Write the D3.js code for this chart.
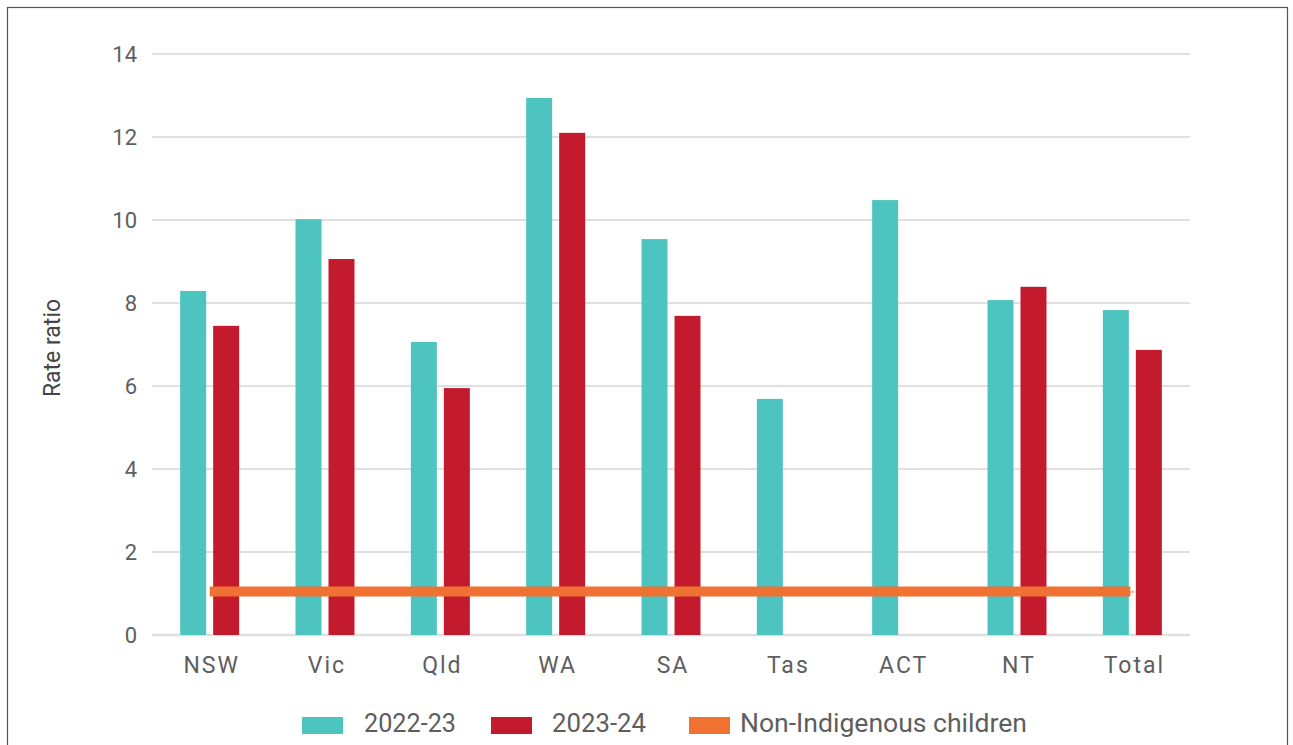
<!DOCTYPE html>
<html><head><meta charset="utf-8">
<script src="https://cdn.jsdelivr.net/npm/d3@7"></script>
<style>body{margin:0;background:#fff;} svg{display:block;}</style>
</head><body>
<script>
const categories = ["NSW","Vic","Qld","WA","SA","Tas","ACT","NT","Total"];
const series2223 = [8.29, 10.02, 7.06, 12.94, 9.54, 5.69, 10.48, 8.07, 7.83];
const series2324 = [7.45, 9.06, 5.95, 12.10, 7.69, null, null, 8.39, 6.87];
const nonIndigenous = 1.05;
const yTicks = [0,2,4,6,8,10,12,14];
const seriesNames = ["2022-23","2023-24","Non-Indigenous children"];
const colors = ["#4EC4C1","#C41A2E","#F07233"];

const W=1293,H=745;
const svg=d3.select("body").append("svg").attr("width",W).attr("height",H);
svg.append("rect").attr("x",7.5).attr("y",7.5).attr("width",1280).attr("height",745).attr("fill","none").attr("stroke","#555").attr("stroke-width",1.2);

const fontF="Roboto,'Open Sans',sans-serif";
const txtCol="#5e5e5e";
const x=d3.scaleBand().domain(categories).range([152,1190]);
const y=d3.scaleLinear().domain([0,14]).range([635,54]);

// grid
svg.append("g").selectAll("line").data(yTicks).join("line")
 .attr("x1",152).attr("x2",1190).attr("y1",d=>y(d)).attr("y2",d=>y(d))
 .attr("stroke","#e0e0e0").attr("stroke-width",d=>d===0?2.5:2);

// y axis labels
const yAxis=d3.axisLeft(y).tickValues(yTicks).tickSize(0).tickPadding(0);
const gy=svg.append("g").attr("transform","translate(137,0)").call(yAxis);
gy.select(".domain").remove();
gy.selectAll("text").attr("font-family",fontF).attr("font-size",22).attr("fill",txtCol).attr("dy","0.36em");

// x axis labels
const xAxis=d3.axisBottom(x).tickSize(0).tickPadding(0);
const gx=svg.append("g").attr("transform","translate(2,673)").call(xAxis);
gx.select(".domain").remove();
gx.selectAll("text").attr("font-family",fontF).attr("font-size",23).attr("fill",txtCol).attr("letter-spacing","2px").attr("dy","0");

// bars
const bw=26,gap=7;
const data=categories.map((c,i)=>({c,a:series2223[i],b:series2324[i]}));
svg.append("g").selectAll("rect").data(data.filter(d=>d.a!=null)).join("rect")
 .attr("x",d=>x(d.c)+x.bandwidth()/2-gap/2-bw).attr("width",bw)
 .attr("y",d=>y(d.a)).attr("height",d=>y(0)-y(d.a)).attr("fill",colors[0]);
svg.append("g").selectAll("rect").data(data.filter(d=>d.b!=null)).join("rect")
 .attr("x",d=>x(d.c)+x.bandwidth()/2+gap/2).attr("width",bw)
 .attr("y",d=>y(d.b)).attr("height",d=>y(0)-y(d.b)).attr("fill",colors[1]);

// non-indigenous line
const x0=x(categories[0])+x.bandwidth()/2, x1=x(categories[categories.length-1])+x.bandwidth()/2;
svg.append("line").attr("x1",x0).attr("x2",x1-2).attr("y1",y(nonIndigenous)).attr("y2",y(nonIndigenous))
 .attr("stroke",colors[2]).attr("stroke-width",10);
svg.append("line").attr("x1",x1-2).attr("x2",x1+2).attr("y1",y(nonIndigenous)+0.5).attr("y2",y(nonIndigenous)+0.5)
 .attr("stroke",colors[2]).attr("stroke-width",1);

// y title
svg.append("text").attr("transform","translate(60,348) rotate(-90)").attr("text-anchor","middle")
 .attr("font-family",fontF).attr("font-size",23).attr("fill","#454545").text("Rate ratio");

// legend
const leg=[{x:302,tx:364,w:92},{x:491,tx:552,w:94},{x:689,tx:740,w:287}];
leg.forEach((l,i)=>{
 svg.append("rect").attr("x",l.x).attr("y",717).attr("width",41).attr("height",17).attr("fill",colors[i]);
 svg.append("text").attr("x",l.tx).attr("y",732).attr("font-family",fontF).attr("font-size",26)
  .attr("fill",txtCol).attr("textLength",l.w).attr("lengthAdjust","spacingAndGlyphs").text(seriesNames[i]);
});
</script>
</body></html>
